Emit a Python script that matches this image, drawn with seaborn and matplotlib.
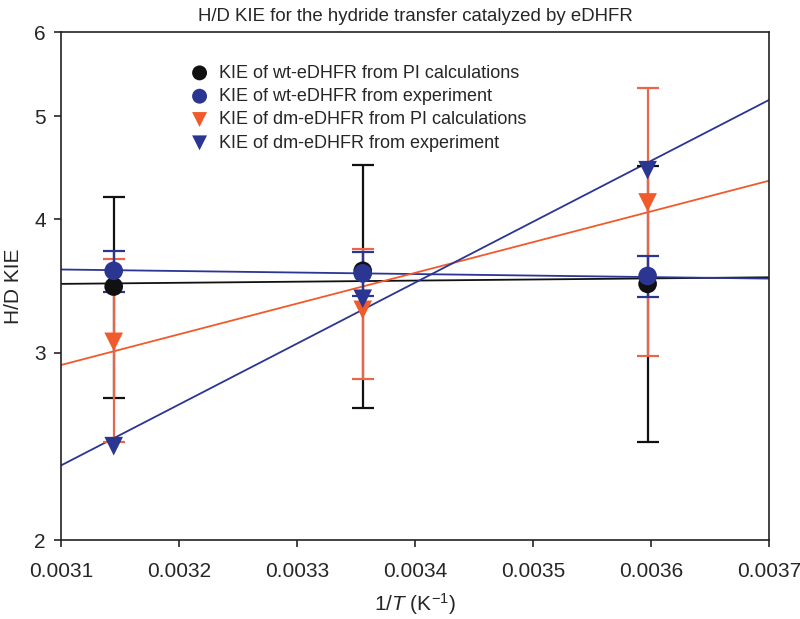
import numpy as np
import pandas as pd
import matplotlib
matplotlib.use("Agg")
import matplotlib.pyplot as plt
from matplotlib.ticker import FixedLocator, FixedFormatter, NullLocator
import seaborn as sns

# temperatures (K) -> 1/T
temps = [318.0, 298.0, 278.0]
inv_t = [1.0 / t for t in temps]

# KIE values
wt_pi = [3.46, 3.58, 3.48]
wt_pi_err = [0.74, 0.92, 1.01]
wt_exp = [3.58, 3.56, 3.54]
wt_exp_err = [0.16, 0.17, 0.16]
dm_pi = [3.07, 3.29, 4.15]
dm_pi_err = [0.60, 0.46, 1.17]
dm_exp = [2.45, 3.37, 4.45]

# fitted lines, values at the x-limits
fit_x = [0.0031, 0.0037]
fit_wt_pi = [3.48, 3.53]
fit_wt_exp = [3.59, 3.52]
fit_dm_pi = [2.92, 4.35]
fit_dm_exp = [2.35, 5.18]

labels = ["KIE of wt-eDHFR from PI calculations",
          "KIE of wt-eDHFR from experiment",
          "KIE of dm-eDHFR from PI calculations",
          "KIE of dm-eDHFR from experiment"]
xticks = [0.0031, 0.0032, 0.0033, 0.0034, 0.0035, 0.0036, 0.0037]
yticks = [2, 3, 4, 5, 6]

black = "#111111"
blue = "#2B3592"
orange = "#F15A2B"
orange_bar = "#E9664B"

sns.set_style("ticks")
plt.rcParams["font.family"] = ["Liberation Sans", "DejaVu Sans"]
plt.rcParams["mathtext.fontset"] = "custom"
plt.rcParams["mathtext.rm"] = "Liberation Sans"
plt.rcParams["mathtext.it"] = "Liberation Sans:italic"

fig = plt.figure(figsize=(8, 6.19), dpi=100)
ax = fig.add_axes([0.07625, 0.1276, 0.885, 0.8207])

# fit lines
for ys, c in [(fit_wt_pi, black), (fit_wt_exp, blue), (fit_dm_pi, orange), (fit_dm_exp, blue)]:
    sns.lineplot(x=fit_x, y=ys, color=c, lw=1.3, ax=ax, zorder=2)

# error bars
ax.errorbar(inv_t, wt_pi, yerr=wt_pi_err, fmt="none", ecolor=black, elinewidth=1.6,
            capsize=8, capthick=1.6, zorder=3)
ax.errorbar(inv_t, dm_pi, yerr=dm_pi_err, fmt="none", ecolor=orange_bar, elinewidth=1.6,
            capsize=8, capthick=1.6, zorder=4)
ax.errorbar(inv_t, wt_exp, yerr=wt_exp_err, fmt="none", ecolor=blue, elinewidth=1.6,
            capsize=8, capthick=1.6, zorder=5)

# markers
df = pd.DataFrame({"x": inv_t * 4,
                   "y": wt_pi + wt_exp + dm_pi + dm_exp,
                   "series": [l for l in labels for _ in inv_t]})
styles = [("o", black), ("o", blue), ("v", orange), ("v", blue)]
for lab, (m, c) in zip(labels, styles):
    sub = df[df["series"] == lab]
    sns.scatterplot(data=sub, x="x", y="y", marker=m, color=c, s=180,
                    edgecolor="none", label=lab, ax=ax, zorder=6)

ax.set_yscale("log")
ax.set_xlim(0.0031, 0.0037)
ax.set_ylim(2, 6)
ax.yaxis.set_major_locator(FixedLocator(yticks))
ax.yaxis.set_major_formatter(FixedFormatter([str(v) for v in yticks]))
ax.yaxis.set_minor_locator(NullLocator())
ax.set_xticks(xticks)
ax.set_xticklabels([f"{v:.4f}" for v in xticks])
ax.tick_params(axis="both", labelsize=15, length=5, width=1.2, direction="out")
ax.tick_params(axis="x", pad=11)
ax.tick_params(axis="y", pad=6)

for s in ax.spines.values():
    s.set_linewidth(1.2)
    s.set_color("#222222")

ax.set_xlabel("1/$T$ (K$^{-1}$)", fontsize=15, labelpad=7)
ax.set_ylabel("H/D KIE", fontsize=15, labelpad=8)
ax.set_title("H/D KIE for the hydride transfer catalyzed by eDHFR", fontsize=13.4, pad=8)

ax.legend(loc="upper left", bbox_to_anchor=(0.16, 0.95), frameon=False,
          fontsize=13, handletextpad=0.1, labelspacing=0.35, markerscale=0.8,
          borderaxespad=0.0)

fig.savefig("out.png", dpi=100)
